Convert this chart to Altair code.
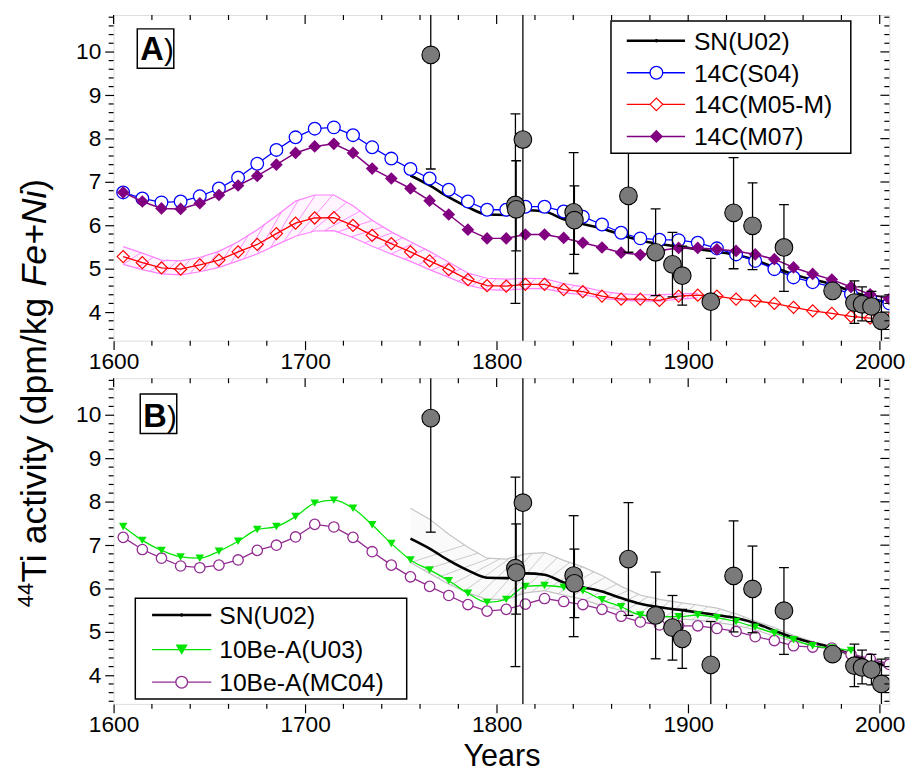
import altair as alt
import numpy as np
import pandas as pd

# ---------------- data ----------------
years_10 = list(range(1605, 2006, 10))
c14_s04 = [6.76, 6.62, 6.53, 6.55, 6.67, 6.85, 7.10, 7.42, 7.74, 8.03, 8.23, 8.26, 8.08, 7.80, 7.54,
           7.30, 7.08, 6.82, 6.55, 6.36, 6.36, 6.43, 6.43, 6.32, 6.20, 6.02, 5.83, 5.70, 5.67, 5.66,
           5.60, 5.47, 5.33, 5.18, 4.99, 4.80, 4.69, 4.58, 4.41, 4.32, 4.20]
c14_m07 = [6.76, 6.55, 6.39, 6.38, 6.51, 6.70, 6.92, 7.14, 7.40, 7.67, 7.82, 7.88, 7.67, 7.31, 7.08,
           6.85, 6.57, 6.25, 5.90, 5.70, 5.70, 5.79, 5.79, 5.71, 5.60, 5.49, 5.37, 5.32, 5.42, 5.48,
           5.48, 5.45, 5.41, 5.33, 5.22, 5.03, 4.88, 4.75, 4.58, 4.41, 4.30]
c14_m05 = [5.28, 5.14, 5.02, 4.99, 5.09, 5.20, 5.39, 5.56, 5.81, 6.05, 6.17, 6.18, 6.00, 5.77, 5.58,
           5.39, 5.18, 4.98, 4.75, 4.61, 4.60, 4.64, 4.64, 4.52, 4.47, 4.37, 4.30, 4.30, 4.27, 4.37,
           4.39, 4.37, 4.30, 4.26, 4.20, 4.11, 4.03, 3.97, 3.90, 3.86, 3.84]

m05_band_years = list(range(1605, 1906, 10))
m05_upper = [5.51, 5.36, 5.20, 5.18, 5.26, 5.40, 5.62, 5.90, 6.22, 6.56, 6.70, 6.70, 6.45, 6.12, 5.85,
             5.62, 5.40, 5.15, 4.90, 4.78, 4.76, 4.78, 4.77, 4.66, 4.58, 4.48, 4.42, 4.40, 4.40, 4.42,
             4.43]
m05_lower = [5.10, 4.98, 4.88, 4.86, 4.93, 5.03, 5.18, 5.34, 5.55, 5.75, 5.87, 5.88, 5.72, 5.52, 5.34,
             5.17, 4.98, 4.80, 4.62, 4.52, 4.50, 4.54, 4.54, 4.45, 4.40, 4.32, 4.27, 4.26, 4.25, 4.30,
             4.33]

sn_years = list(range(1755, 2006, 10))
sn_u02 = [7.15, 6.92, 6.65, 6.42, 6.25, 6.24, 6.35, 6.32, 6.14, 6.03, 5.93, 5.78, 5.65, 5.57, 5.51,
          5.45, 5.39, 5.32, 5.20, 5.03, 4.87, 4.75, 4.64, 4.48, 4.33, 4.20]
sn_upper = [7.85, 7.60, 7.25, 6.95, 6.70, 6.68, 6.80, 6.83, 6.65, 6.50, 6.30, 6.05, 5.85, 5.75, 5.68,
            5.62, 5.55, 5.42, 5.25, 5.10, 4.92, 4.78, 4.66, 4.52, 4.38, 4.28]
sn_lower = [6.60, 6.35, 6.10, 5.90, 5.75, 5.75, 5.90, 5.95, 5.85, 5.75, 5.60, 5.50, 5.40, 5.35, 5.30,
            5.27, 5.22, 5.15, 5.05, 4.90, 4.78, 4.68, 4.58, 4.44, 4.28, 4.15]

be_u03_years = list(range(1605, 1986, 10))
be_u03 = [7.43, 7.11, 6.88, 6.73, 6.70, 6.86, 7.09, 7.36, 7.43, 7.66, 7.97, 8.04, 7.85, 7.47, 7.04,
          6.66, 6.43, 6.18, 5.89, 5.68, 5.75, 6.05, 6.07, 6.03, 5.95, 5.74, 5.58, 5.39, 5.36, 5.35,
          5.39, 5.33, 5.24, 5.11, 4.97, 4.82, 4.68, 4.63, 4.57]
be_mc04 = [7.18, 6.90, 6.70, 6.52, 6.48, 6.54, 6.66, 6.88, 7.00, 7.19, 7.48, 7.42, 7.18, 6.85, 6.54,
           6.27, 6.05, 5.84, 5.63, 5.48, 5.52, 5.64, 5.77, 5.70, 5.63, 5.52, 5.36, 5.23, 5.16, 5.14,
           5.14, 5.08, 5.01, 4.89, 4.80, 4.68, 4.65, 4.63, 4.48, 4.38, 4.25]

meas_years = [1765.6, 1809.8, 1810.2, 1813.7, 1840.2, 1840.6, 1868.8, 1883.0, 1891.8, 1896.9,
              1911.8, 1923.7, 1933.6, 1950.0, 1975.4, 1986.8, 1990.8, 1995.7, 2000.9]
meas_val = [9.93, 6.47, 6.37, 7.98, 6.30, 6.12, 6.68, 5.38, 5.10, 4.84,
            4.24, 6.29, 5.99, 5.49, 4.49, 4.22, 4.18, 4.13, 3.80]
meas_lo = [7.30, 4.20, 5.41, 0.00, 4.89, 5.33, 5.38, 4.38, 4.35, 4.16,
           3.20, 5.00, 4.98, 4.48, 4.38, 3.74, 3.80, 3.78, 3.25]
meas_hi = [12.50, 8.57, 7.49, 20.0, 7.68, 6.91, 7.98, 6.38, 5.84, 5.52,
           5.24, 7.56, 6.98, 6.48, 4.60, 4.72, 4.58, 4.48, 4.37]

x_major = [1600, 1700, 1800, 1900, 2000]
x_minor = [v for v in range(1620, 2001, 20) if v % 100 != 0]
y_major = [4, 5, 6, 7, 8, 9, 10]
y_minor = [round(3.4 + 0.2 * i, 1) for i in range(38) if (i + 2) % 5 != 0]

# ---------------- styling ----------------
W, H = 786, 330
X_DOM = [1600, 2005]
Y_DOM = [3.34, 10.85]
FONT = "Liberation Sans"
BLUE, RED, PURPLE, MAG, GREEN = "#0000ff", "#ff0000", "#800080", "#922b92", "#00e600"
PINK, GRAYB = "#ff80ff", "#c4c4c4"

xs = alt.Scale(domain=X_DOM, nice=False, zero=False)
ys = alt.Scale(domain=Y_DOM, nice=False, zero=False)


def hatch_df(years, lower, upper, step=7.0):
    """Diagonal hatch segments spanning a band (decoration derived from the band arrays)."""
    yr = np.array(years, float)
    lo = np.array(lower, float)
    hi = np.array(upper, float)
    px_year = W / (X_DOM[1] - X_DOM[0])
    px_unit = H / (Y_DOM[1] - Y_DOM[0])
    rows = []
    t = yr[0]
    while t < yr[-1]:
        l = float(np.interp(t, yr, lo))
        h = float(np.interp(t, yr, hi))
        t2 = t + (h - l) * px_unit / px_year
        if t2 <= yr[-1]:
            rows.append((t, l, t2, float(np.interp(t2, yr, hi))))
        t += step
    return pd.DataFrame(rows, columns=["x1", "y1", "x2", "y2"])


def x_axis(title):
    kw = dict(values=x_major, format="d", tickSize=9,
              tickColor="black", tickWidth=1.2, domain=False, grid=False,
              labelFont=FONT, labelFontSize=23, labelColor="black", labelPadding=1,
              labelFlush=False, labelOverlap=False)
    if title:
        return alt.Axis(title=title, titleFont=FONT, titleFontSize=31, titleFontWeight="normal",
                        titleColor="black", titlePadding=5, **kw)
    return alt.Axis(title=None, **kw)


y_axis = alt.Axis(values=y_major, format="d", title=None, tickSize=9,
                  tickColor="black", tickWidth=1.2, domain=False, grid=False,
                  labelFont=FONT, labelFontSize=23, labelColor="black", labelPadding=4,
                  labelFlush=False, labelOverlap=False)

one = pd.DataFrame({"k": [0]})


def series_df(years, vals):
    return pd.DataFrame({"year": years, "val": vals})


def panel(kind):
    xa = x_axis("Years" if kind == "B" else None)
    X = lambda f: alt.X(f"{f}:Q", scale=xs, axis=xa)
    Y = lambda f: alt.Y(f"{f}:Q", scale=ys, axis=y_axis)
    layers = []

    if kind == "A":
        band = pd.DataFrame({"year": m05_band_years, "lo": m05_lower, "hi": m05_upper})
        hatch = hatch_df(m05_band_years, m05_lower, m05_upper)
        bcol = PINK
    else:
        band = pd.DataFrame({"year": sn_years, "lo": sn_lower, "hi": sn_upper})
        hatch = hatch_df(sn_years, sn_lower, sn_upper)
        bcol = GRAYB
    layers.append(alt.Chart(band).mark_area(color=bcol, opacity=0.08, clip=True)
                  .encode(x=X("year"), y=Y("lo"), y2="hi"))
    layers.append(alt.Chart(hatch).mark_rule(color=bcol, strokeWidth=0.9, clip=True)
                  .encode(x=X("x1"), x2="x2", y=Y("y1"), y2="y2"))
    for f in ["lo", "hi"]:
        layers.append(alt.Chart(band).mark_line(color=bcol, strokeWidth=1.2, clip=True)
                      .encode(x=X("year"), y=Y(f)))

    sn = series_df(sn_years, sn_u02)

    if kind == "A":
        d = series_df(years_10, c14_m05)
        layers.append(alt.Chart(d).mark_line(color=RED, strokeWidth=1.3, clip=True)
                      .encode(x=X("year"), y=Y("val")))
        layers.append(alt.Chart(d).mark_point(shape="diamond", filled=False, color=RED, size=150,
                                              strokeWidth=1.2, opacity=1, clip=True)
                      .encode(x=X("year"), y=Y("val")))
        layers.append(alt.Chart(sn).mark_line(color="black", strokeWidth=2.6, interpolate="monotone",
                                              clip=True).encode(x=X("year"), y=Y("val")))
        d = series_df(years_10, c14_s04)
        layers.append(alt.Chart(d).mark_line(color=BLUE, strokeWidth=1.3, clip=True)
                      .encode(x=X("year"), y=Y("val")))
        layers.append(alt.Chart(d).mark_point(shape="circle", filled=True, fill="white", stroke=BLUE,
                                              size=165, strokeWidth=1.3, opacity=1, clip=True)
                      .encode(x=X("year"), y=Y("val")))
        d = series_df(years_10, c14_m07)
        layers.append(alt.Chart(d).mark_line(color=PURPLE, strokeWidth=1.5, clip=True)
                      .encode(x=X("year"), y=Y("val")))
        layers.append(alt.Chart(d).mark_point(shape="diamond", filled=True, color=PURPLE, size=165,
                                              opacity=1, clip=True)
                      .encode(x=X("year"), y=Y("val")))
    else:
        layers.append(alt.Chart(sn).mark_line(color="black", strokeWidth=2.6, interpolate="monotone",
                                              clip=True).encode(x=X("year"), y=Y("val")))
        d = series_df(years_10, be_mc04)
        layers.append(alt.Chart(d).mark_line(color=MAG, strokeWidth=1.3, clip=True)
                      .encode(x=X("year"), y=Y("val")))
        layers.append(alt.Chart(d).mark_point(shape="circle", filled=True, fill="white", stroke=MAG,
                                              size=110, strokeWidth=1.3, opacity=1, clip=True)
                      .encode(x=X("year"), y=Y("val")))
        d = series_df(be_u03_years, be_u03)
        layers.append(alt.Chart(d).mark_line(color=GREEN, strokeWidth=1.3, interpolate="monotone",
                                             clip=True).encode(x=X("year"), y=Y("val")))
        layers.append(alt.Chart(d).mark_point(shape="triangle-down", filled=True, color=GREEN,
                                              size=75, opacity=1, clip=True)
                      .encode(x=X("year"), y=Y("val")))

    # measurements with error bars
    meas = pd.DataFrame({"year": meas_years, "val": meas_val, "lo": meas_lo, "hi": meas_hi})
    layers.append(alt.Chart(meas).mark_rule(color="black", strokeWidth=1.3, clip=True)
                  .encode(x=X("year"), y=Y("lo"), y2="hi"))
    for f in ["lo", "hi"]:
        layers.append(alt.Chart(meas).mark_tick(orient="horizontal", color="black", size=10,
                                                thickness=1.3, opacity=1, clip=True)
                      .encode(x=X("year"), y=Y(f)))
    layers.append(alt.Chart(meas).mark_point(shape="circle", filled=True, fill="#7a7a7a",
                                             stroke="black", strokeWidth=1.1, size=320, opacity=1,
                                             clip=True)
                  .encode(x=X("year"), y=Y("val")))

    # minor ticks (outward) and mirrored ticks on top and right edges (inward)
    xmin_df = pd.DataFrame({"v": x_minor})
    ymin_df = pd.DataFrame({"v": y_minor})
    layers.append(alt.Chart(xmin_df).mark_rule(color="black", strokeWidth=1.2)
                  .encode(x=X("v"), y=alt.value(H), y2=alt.value(H + 5)))
    layers.append(alt.Chart(ymin_df).mark_rule(color="black", strokeWidth=1.2)
                  .encode(y=Y("v"), x=alt.value(-5), x2=alt.value(0)))
    for vals, ln in [(x_major, 9), (x_minor, 5)]:
        layers.append(alt.Chart(pd.DataFrame({"v": vals})).mark_rule(color="black", strokeWidth=1.2)
                      .encode(x=X("v"), y=alt.value(0), y2=alt.value(ln)))
    for vals, ln in [(y_major, 9), (y_minor, 5)]:
        layers.append(alt.Chart(pd.DataFrame({"v": vals})).mark_rule(color="black", strokeWidth=1.2)
                      .encode(y=Y("v"), x=alt.value(W), x2=alt.value(W - ln)))

    # panel tag
    if kind == "A":
        bx, by, tx, ty = 24, 14, 27, 46
    else:
        bx, by, tx, ty = 27, 16, 30, 49
    layers.append(alt.Chart(one).mark_rect(fill="white", stroke="black", strokeWidth=1.5)
                  .encode(x=alt.value(bx), x2=alt.value(bx + 37), y=alt.value(by),
                          y2=alt.value(by + 40)))
    layers.append(alt.Chart(one).mark_text(text=kind, font=FONT, fontSize=33, fontWeight="bold",
                                           align="left", baseline="alphabetic", color="black")
                  .encode(x=alt.value(tx), y=alt.value(ty)))
    layers.append(alt.Chart(one).mark_text(text=")", font=FONT, fontSize=30,
                                           align="left", baseline="alphabetic", color="black")
                  .encode(x=alt.value(tx + 24), y=alt.value(ty)))

    # legend box
    if kind == "A":
        box = (504, 747, 6, 140)
        rows = [26, 58.5, 90.5, 123]
        lx0, lx1, mx, tx_ = 520, 579, 550, 588
        entries = [("SN(U02)", "black", "sn"), ("14C(S04)", BLUE, "circle_open"),
                   ("14C(M05-M)", RED, "diamond_open"), ("14C(M07)", PURPLE, "diamond")]
    else:
        box = (22, 297, 223, 325)
        rows = [240, 275, 308]
        lx0, lx1, mx, tx_ = 39, 99, 69, 107
        entries = [("SN(U02)", "black", "sn"), ("10Be-A(U03)", GREEN, "tri"),
                   ("10Be-A(MC04)", MAG, "circle_small")]
    layers.append(alt.Chart(one).mark_rect(fill="white", stroke="black", strokeWidth=1.5)
                  .encode(x=alt.value(box[0]), x2=alt.value(box[1]), y=alt.value(box[2]),
                          y2=alt.value(box[3])))
    for (lab, col, sym), ry in zip(entries, rows):
        sw = 2.6 if sym == "sn" else 1.4
        layers.append(alt.Chart(one).mark_rule(color=col, strokeWidth=sw)
                      .encode(x=alt.value(lx0), x2=alt.value(lx1), y=alt.value(ry)))
        if sym == "sn":
            mk = alt.Chart(one).mark_point(shape="circle", filled=True, color="black", size=12, opacity=1)
        elif sym == "circle_open":
            mk = alt.Chart(one).mark_point(shape="circle", filled=True, fill="white", stroke=col,
                                           strokeWidth=1.3, size=165, opacity=1)
        elif sym == "diamond_open":
            mk = alt.Chart(one).mark_point(shape="diamond", filled=True, fill="white", stroke=col,
                                           strokeWidth=1.2, size=165, opacity=1)
        elif sym == "diamond":
            mk = alt.Chart(one).mark_point(shape="diamond", filled=True, color=col, size=180, opacity=1)
        elif sym == "tri":
            mk = alt.Chart(one).mark_point(shape="triangle-down", filled=True, color=col, size=150,
                                           opacity=1)
        else:
            mk = alt.Chart(one).mark_point(shape="circle", filled=True, fill="white", stroke=col,
                                           strokeWidth=1.3, size=140, opacity=1)
        layers.append(mk.encode(x=alt.value(mx), y=alt.value(ry)))
        layers.append(alt.Chart(one).mark_text(text=lab, font=FONT, fontSize=25, align="left",
                                               baseline="middle", color="black")
                      .encode(x=alt.value(tx_), y=alt.value(ry + 1)))

    # shared y title (drawn from panel A, spans both panels)
    if kind == "A":
        bx0, y0 = -68, 600
        pieces = [("44", 22, "normal", -14, 0),
                  ("Ti activity (dpm/kg ", 36, "normal", 0, 25),
                  ("Fe+Ni", 36, "italic", 0, 25 + 300),
                  (")", 36, "normal", 0, 25 + 300 + 97)]
        for txt, fs, st, dx, dy in pieces:
            layers.append(alt.Chart(one).mark_text(text=txt, font=FONT,
                                                   fontSize=fs, fontStyle=st, angle=270,
                                                   align="left", baseline="alphabetic",
                                                   color="black")
                          .encode(x=alt.value(bx0 + dx), y=alt.value(y0 - dy)))

    return alt.layer(*layers).properties(width=W, height=H)


chart = alt.vconcat(panel("A"), panel("B"), spacing=38, bounds="flush").properties(
    padding={"left": 6, "top": 0, "right": 5, "bottom": 5}
).configure_view(stroke="black", strokeWidth=1.5).configure(font=FONT)

chart.save("out.html", embed_options={"renderer": "svg", "actions": False})
